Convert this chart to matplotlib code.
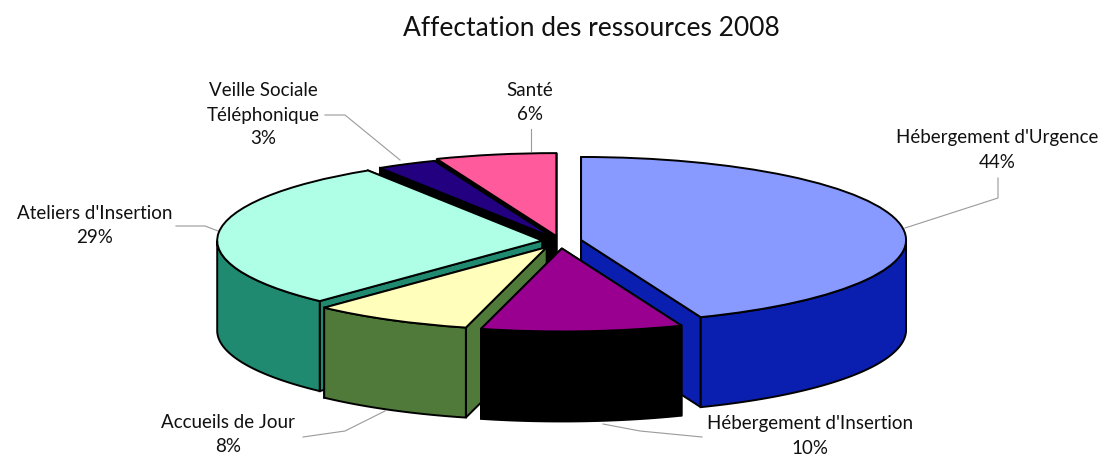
import numpy as np
import matplotlib
matplotlib.use("Agg")
import matplotlib.pyplot as plt
from matplotlib.patches import Polygon

title = "Affectation des ressources 2008"
categories = ["Hébergement d'Urgence", "Hébergement d'Insertion", "Accueils de Jour",
              "Ateliers d'Insertion", "Veille Sociale\nTéléphonique", "Santé"]
shares = [44, 10, 8, 29, 3, 6]
explode = [0.066, 0.09, 0.085, 0.055, 0.04, 0.06]
top_colors = ["#8899FF", "#990090", "#FFFFBB", "#AFFFE6", "#22007F", "#FF5A9B"]
wall_colors = ["#0A1FB0", "#000000", "#4F7A3A", "#1F8A70", "#000000", "#000000"]
paint_order = [5, 4, 0, 3, 2, 1]

W, H = 1106, 458
CX, CY, RX, RY = 560, 241, 325, 83
DEPTH = 90 / RY
EDGE = 1.4

fig = plt.figure(figsize=(W / 100, H / 100), dpi=100)
ax = fig.add_axes([0, 0, 1, 1])
wedges, _ = ax.pie(shares, explode=explode, startangle=90, counterclock=False, colors=top_colors,
                   wedgeprops=dict(edgecolor="black", linewidth=EDGE))
ax.set_aspect("auto")
ax.set_xlim(-CX / RX, (W - CX) / RX)
ax.set_ylim((CY - H) / RY, CY / RY)


def wall(points, color, z):
    pts = np.asarray(points)
    ax.add_patch(Polygon(pts, closed=True, facecolor=color, edgecolor="black", linewidth=EDGE, zorder=z))


for z, i in enumerate(paint_order):
    w = wedges[i]
    c = np.array(w.center)
    base = z * 2 + 2
    for th in (w.theta1, w.theta2):
        p = c + np.array([np.cos(np.radians(th)), np.sin(np.radians(th))])
        wall([c, p, p - [0, DEPTH], c - [0, DEPTH]], wall_colors[i], base)
    t = np.radians(np.linspace(w.theta1, w.theta2, 200))
    t = t[np.sin(t) < 0]
    if t.size:
        arc = np.c_[c[0] + np.cos(t), c[1] + np.sin(t)]
        wall(np.r_[arc, arc[::-1] - [0, DEPTH]], wall_colors[i], base)
    w.set_zorder(base + 1)


def px(x, y):
    return (x - CX) / RX, (CY - y) / RY


leaders = [
    [(905, 228), (998, 198), (998, 178)],
    [(603, 424), (640, 431), (702, 437)],
    [(303, 437), (345, 431), (385, 411)],
    [(176, 226), (205, 226), (218, 231)],
    [(325, 115), (345, 115), (400, 160)],
    [(531, 129), (531, 151)],
]
for line in leaders:
    xy = np.array([px(*p) for p in line])
    ax.plot(xy[:, 0], xy[:, 1], color="#9a9a9a", lw=0.8, zorder=1, clip_on=False)

label_pos = [(997, 150), (810, 436), (228, 435), (95, 226), (263, 115), (530, 102)]
FONT = "Lato"
for cat, val, (x, y) in zip(categories, shares, label_pos):
    fig.text(x / W, 1 - y / H, f"{cat}\n{val}%", ha="center", va="center", fontsize=13.5,
             family=FONT, color="#111111", linespacing=1.5)
fig.text(591 / W, 1 - 29 / H, title, ha="center", va="center", fontsize=19, family=FONT, color="#111111")

fig.savefig("out.png", dpi=100)
